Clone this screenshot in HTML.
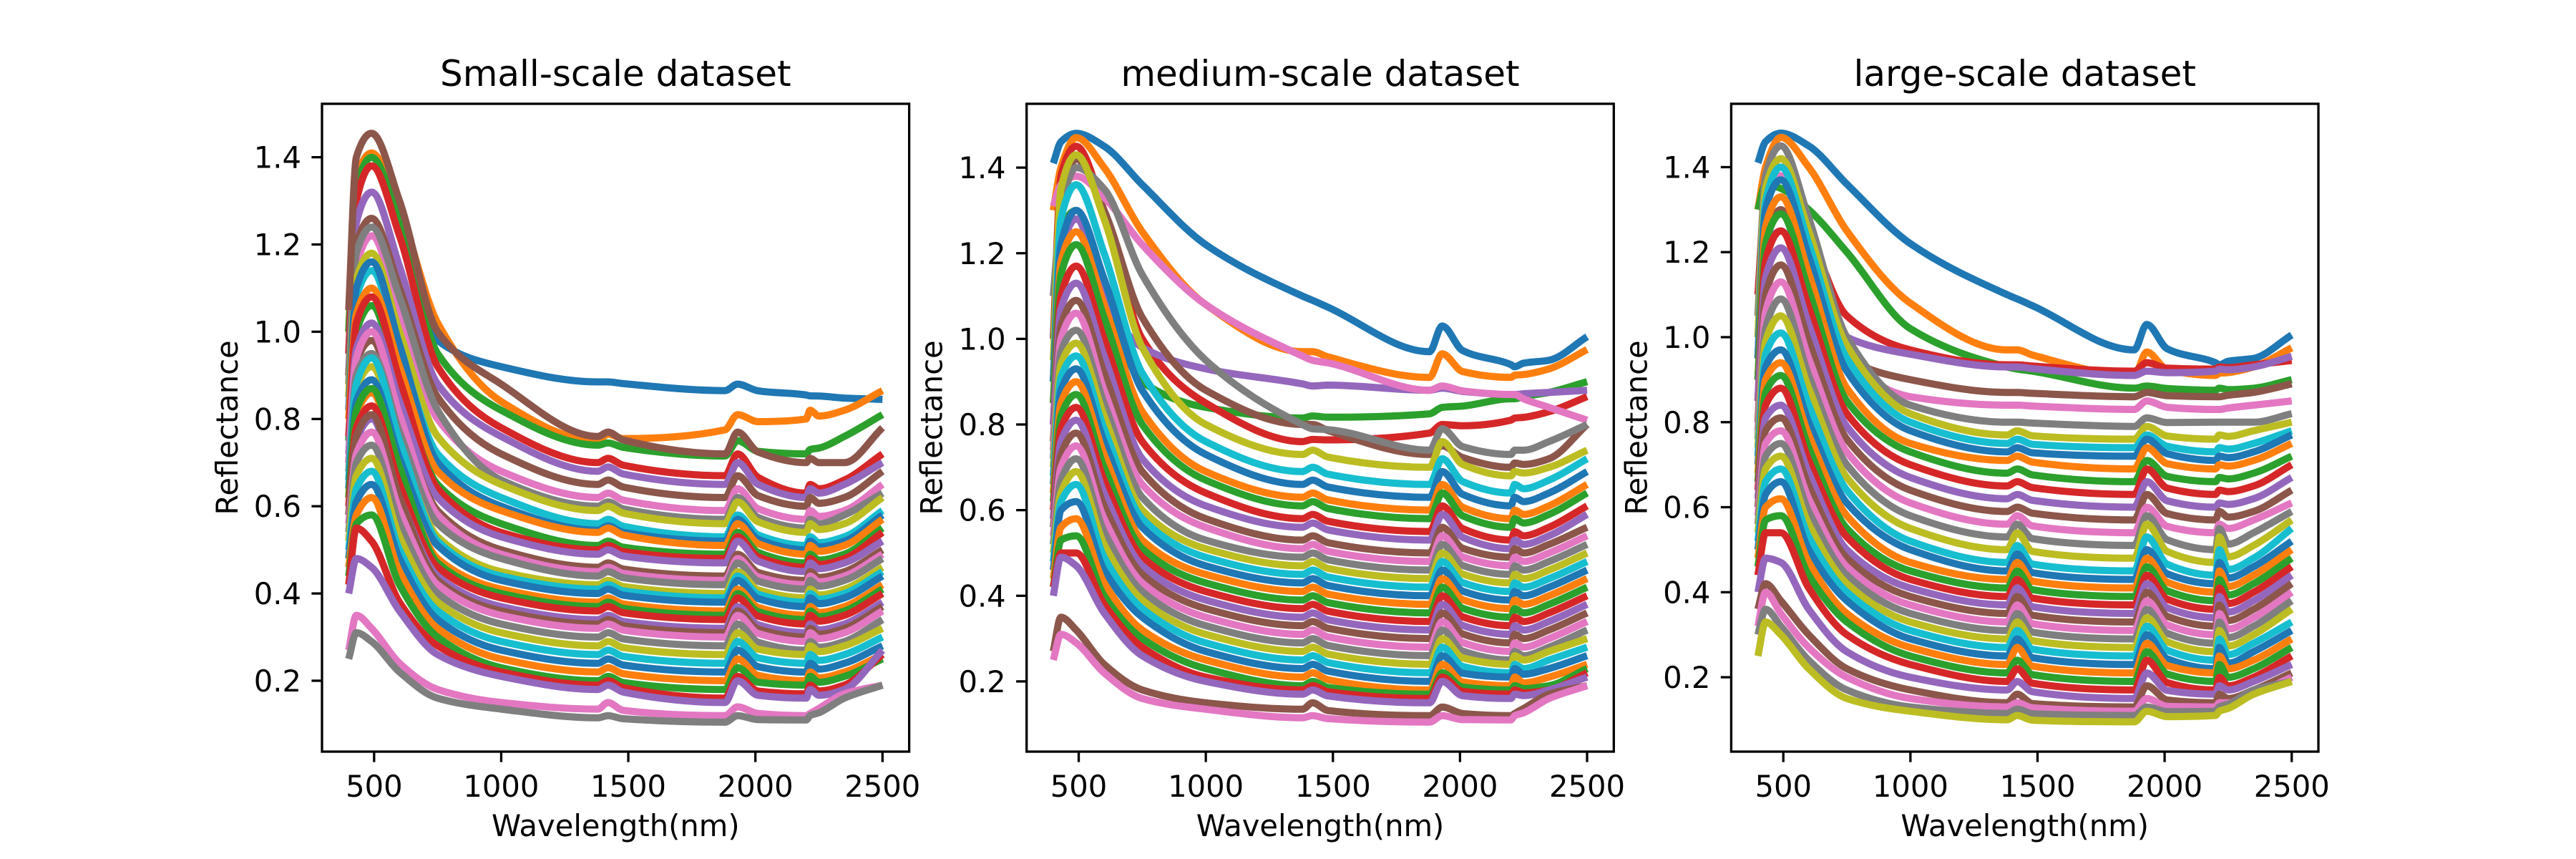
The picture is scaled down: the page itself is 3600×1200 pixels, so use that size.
<!DOCTYPE html>
<html><head><meta charset="utf-8"><style>
html,body{margin:0;padding:0;background:#fff;}
svg{display:block;font-family:"DejaVu Sans","Liberation Sans",sans-serif;}
</style></head><body>
<svg id="fig" width="3600" height="1200" viewBox="0 0 3600 1200" xmlns="http://www.w3.org/2000/svg"></svg>
<script>
// ---- data (wavelength sample points and reflectance curves) ----
const wavelengths = [400,430,490,600,750,1000,1380,1420,1880,1930,2200,2215,2350,2500];
const xTicks = [500,1000,1500,2000,2500];
const xTickLabels = ["500","1000","1500","2000","2500"];
const yTicks = [0.2,0.4,0.6,0.8,1.0,1.2,1.4];
const yTickLabels = ["0.2","0.4","0.6","0.8","1.0","1.2","1.4"];
const panelTitles = ["Small-scale dataset","medium-scale dataset","large-scale dataset"];
const smallCurves = [
[0.95,1.30,1.38,1.25,0.98,0.92,0.885,0.885,0.865,0.88,0.855,0.853,0.848,0.845],
[1.00,1.35,1.41,1.28,1.02,0.84,0.75,0.765,0.775,0.81,0.80,0.82,0.82,0.865],
[1.00,1.33,1.40,1.25,0.95,0.82,0.74,0.745,0.715,0.75,0.72,0.73,0.76,0.81],
[0.95,1.30,1.38,1.22,0.92,0.78,0.70,0.71,0.67,0.72,0.63,0.65,0.66,0.72],
[0.90,1.25,1.32,1.15,0.88,0.76,0.68,0.69,0.65,0.70,0.62,0.64,0.65,0.70],
[0.90,1.20,1.26,1.10,0.85,0.72,0.65,0.66,0.62,0.67,0.60,0.62,0.62,0.68],
[0.85,1.15,1.22,1.05,0.80,0.68,0.62,0.63,0.59,0.64,0.57,0.59,0.59,0.65],
[0.88,1.18,1.24,1.08,0.82,0.66,0.60,0.61,0.57,0.62,0.55,0.57,0.58,0.63],
[0.85,1.12,1.18,1.00,0.76,0.65,0.59,0.60,0.56,0.61,0.54,0.56,0.56,0.62],
[0.80,1.08,1.14,0.96,0.72,0.62,0.56,0.57,0.53,0.58,0.51,0.53,0.53,0.59],
[0.82,1.10,1.16,0.97,0.70,0.60,0.545,0.555,0.52,0.57,0.50,0.52,0.52,0.58],
[0.80,1.04,1.10,0.92,0.68,0.59,0.54,0.55,0.51,0.56,0.49,0.51,0.51,0.57],
[0.75,1.00,1.06,0.88,0.65,0.56,0.51,0.52,0.49,0.54,0.47,0.49,0.49,0.55],
[0.76,1.02,1.08,0.89,0.64,0.54,0.50,0.51,0.48,0.53,0.46,0.48,0.48,0.54],
[0.72,0.96,1.02,0.84,0.62,0.53,0.49,0.50,0.47,0.52,0.45,0.47,0.47,0.52],
[0.70,0.93,0.98,0.80,0.59,0.50,0.46,0.47,0.44,0.49,0.43,0.45,0.45,0.50],
[0.70,0.94,1.00,0.81,0.58,0.49,0.45,0.46,0.43,0.48,0.42,0.44,0.44,0.49],
[0.68,0.90,0.95,0.77,0.56,0.48,0.44,0.45,0.42,0.47,0.41,0.43,0.43,0.48],
[0.66,0.87,0.92,0.74,0.53,0.45,0.42,0.43,0.40,0.45,0.39,0.41,0.41,0.46],
[0.66,0.88,0.94,0.75,0.52,0.44,0.41,0.42,0.39,0.44,0.38,0.40,0.40,0.45],
[0.64,0.84,0.89,0.71,0.51,0.43,0.40,0.41,0.38,0.43,0.37,0.39,0.39,0.44],
[0.62,0.81,0.86,0.68,0.48,0.41,0.38,0.39,0.36,0.41,0.35,0.37,0.37,0.42],
[0.62,0.82,0.87,0.69,0.47,0.40,0.37,0.38,0.35,0.40,0.34,0.36,0.36,0.41],
[0.60,0.78,0.83,0.65,0.46,0.39,0.36,0.37,0.34,0.39,0.33,0.35,0.35,0.40],
[0.58,0.75,0.80,0.62,0.44,0.37,0.34,0.35,0.32,0.37,0.31,0.33,0.33,0.38],
[0.58,0.76,0.81,0.62,0.43,0.36,0.33,0.34,0.31,0.36,0.30,0.32,0.32,0.37],
[0.56,0.72,0.77,0.59,0.42,0.35,0.32,0.33,0.30,0.35,0.29,0.31,0.31,0.36],
[0.54,0.70,0.74,0.56,0.40,0.33,0.30,0.31,0.28,0.33,0.27,0.29,0.29,0.34],
[0.52,0.67,0.71,0.53,0.38,0.31,0.28,0.29,0.26,0.31,0.26,0.28,0.28,0.32],
[0.50,0.64,0.68,0.50,0.36,0.29,0.26,0.27,0.24,0.29,0.24,0.26,0.26,0.30],
[0.48,0.61,0.65,0.48,0.34,0.27,0.24,0.25,0.22,0.27,0.22,0.24,0.24,0.28],
[0.46,0.58,0.62,0.45,0.32,0.25,0.22,0.23,0.20,0.25,0.20,0.22,0.22,0.26],
[0.44,0.56,0.58,0.42,0.30,0.23,0.20,0.21,0.18,0.23,0.19,0.21,0.21,0.25],
[0.42,0.55,0.52,0.38,0.28,0.22,0.19,0.20,0.16,0.21,0.17,0.19,0.19,0.26],
[0.40,0.48,0.46,0.36,0.26,0.21,0.18,0.19,0.15,0.20,0.16,0.18,0.18,0.27],
[1.05,1.40,1.455,1.30,1.00,0.88,0.76,0.77,0.72,0.77,0.70,0.71,0.70,0.78],
[0.27,0.35,0.32,0.24,0.18,0.15,0.135,0.15,0.12,0.14,0.12,0.125,0.17,0.19],
[0.25,0.31,0.29,0.22,0.16,0.135,0.115,0.12,0.105,0.12,0.11,0.12,0.16,0.19]
];
const mediumCurves = [
[1.41,1.46,1.48,1.45,1.36,1.22,1.10,1.09,0.97,1.03,0.94,0.935,0.95,1.005],
[1.30,1.40,1.47,1.40,1.25,1.08,0.97,0.97,0.91,0.965,0.91,0.915,0.93,0.975],
[0.90,1.25,1.30,1.10,0.90,0.84,0.815,0.82,0.825,0.84,0.86,0.86,0.875,0.90],
[1.00,1.38,1.45,1.30,1.00,0.85,0.76,0.765,0.78,0.80,0.81,0.815,0.83,0.865],
[0.90,1.20,1.28,1.10,0.98,0.93,0.895,0.89,0.88,0.885,0.87,0.87,0.875,0.88],
[1.00,1.30,1.42,1.30,1.05,0.88,0.80,0.80,0.73,0.75,0.70,0.71,0.72,0.80],
[1.31,1.36,1.38,1.33,1.22,1.08,0.96,0.95,0.88,0.89,0.87,0.87,0.84,0.81],
[1.10,1.30,1.40,1.35,1.15,0.95,0.80,0.79,0.74,0.79,0.73,0.74,0.76,0.80],
[0.95,1.35,1.43,1.28,0.98,0.80,0.73,0.74,0.70,0.76,0.68,0.69,0.70,0.74],
[0.90,1.28,1.36,1.20,0.92,0.76,0.69,0.70,0.66,0.72,0.64,0.66,0.67,0.72],
[0.90,1.22,1.30,1.14,0.88,0.73,0.66,0.67,0.63,0.69,0.61,0.63,0.64,0.69],
[0.85,1.18,1.25,1.08,0.83,0.69,0.63,0.64,0.60,0.66,0.58,0.60,0.61,0.66],
[0.85,1.15,1.22,1.05,0.80,0.67,0.61,0.62,0.58,0.64,0.56,0.58,0.59,0.64],
[0.80,1.10,1.17,1.00,0.76,0.64,0.58,0.59,0.55,0.61,0.53,0.55,0.56,0.61],
[0.80,1.07,1.13,0.96,0.72,0.61,0.56,0.57,0.53,0.59,0.51,0.53,0.54,0.59],
[0.76,1.03,1.09,0.92,0.69,0.58,0.53,0.54,0.50,0.56,0.49,0.51,0.52,0.56],
[0.74,1.00,1.06,0.88,0.66,0.56,0.51,0.52,0.48,0.54,0.47,0.49,0.50,0.54],
[0.72,0.97,1.02,0.85,0.63,0.53,0.49,0.50,0.46,0.52,0.45,0.47,0.48,0.52],
[0.70,0.94,0.99,0.82,0.60,0.51,0.47,0.48,0.44,0.50,0.43,0.45,0.46,0.50],
[0.68,0.91,0.96,0.79,0.58,0.49,0.45,0.46,0.42,0.48,0.41,0.43,0.44,0.48],
[0.66,0.88,0.93,0.76,0.56,0.47,0.43,0.44,0.40,0.46,0.39,0.41,0.42,0.46],
[0.64,0.85,0.90,0.73,0.53,0.45,0.41,0.42,0.38,0.44,0.37,0.39,0.40,0.44],
[0.62,0.82,0.87,0.70,0.51,0.43,0.39,0.40,0.36,0.42,0.35,0.37,0.38,0.42],
[0.60,0.79,0.84,0.67,0.49,0.41,0.37,0.38,0.34,0.40,0.33,0.35,0.36,0.40],
[0.58,0.76,0.81,0.64,0.47,0.39,0.35,0.36,0.32,0.38,0.31,0.33,0.34,0.38],
[0.56,0.73,0.78,0.61,0.45,0.37,0.33,0.34,0.30,0.36,0.29,0.31,0.32,0.36],
[0.54,0.70,0.75,0.58,0.43,0.35,0.31,0.32,0.28,0.34,0.27,0.29,0.30,0.34],
[0.52,0.67,0.72,0.55,0.41,0.33,0.29,0.30,0.26,0.32,0.25,0.27,0.28,0.32],
[0.50,0.64,0.69,0.52,0.39,0.31,0.27,0.28,0.24,0.30,0.24,0.26,0.27,0.30],
[0.48,0.62,0.66,0.49,0.37,0.29,0.25,0.26,0.22,0.28,0.22,0.24,0.25,0.28],
[0.46,0.60,0.62,0.46,0.35,0.27,0.23,0.24,0.20,0.26,0.21,0.23,0.23,0.26],
[0.44,0.56,0.58,0.43,0.32,0.25,0.21,0.22,0.18,0.24,0.19,0.21,0.21,0.24],
[0.42,0.53,0.54,0.40,0.30,0.23,0.19,0.20,0.17,0.22,0.18,0.19,0.19,0.23],
[0.42,0.50,0.50,0.38,0.28,0.21,0.18,0.19,0.16,0.21,0.17,0.18,0.18,0.22],
[0.40,0.49,0.47,0.36,0.26,0.20,0.17,0.18,0.15,0.20,0.16,0.17,0.18,0.21],
[0.27,0.35,0.32,0.24,0.18,0.15,0.135,0.15,0.12,0.14,0.12,0.125,0.17,0.19],
[0.25,0.31,0.29,0.22,0.16,0.135,0.115,0.12,0.105,0.12,0.11,0.12,0.16,0.19]
];
const largeCurves = [
[1.41,1.46,1.48,1.45,1.36,1.22,1.10,1.09,0.97,1.03,0.94,0.935,0.95,1.005],
[1.30,1.40,1.47,1.40,1.25,1.08,0.97,0.97,0.91,0.965,0.91,0.915,0.93,0.975],
[1.30,1.36,1.35,1.30,1.20,1.02,0.93,0.925,0.88,0.885,0.875,0.88,0.88,0.90],
[1.10,1.35,1.40,1.25,1.05,0.97,0.935,0.935,0.92,0.94,0.925,0.93,0.935,0.945],
[0.90,1.20,1.25,1.12,1.00,0.96,0.93,0.93,0.91,0.92,0.92,0.925,0.93,0.955],
[0.90,1.22,1.30,1.10,0.95,0.90,0.87,0.87,0.86,0.87,0.86,0.86,0.87,0.89],
[1.00,1.30,1.38,1.20,0.95,0.86,0.84,0.84,0.83,0.85,0.83,0.83,0.84,0.85],
[1.05,1.38,1.45,1.28,1.00,0.84,0.80,0.80,0.79,0.81,0.80,0.80,0.80,0.82],
[1.00,1.35,1.42,1.25,0.98,0.82,0.77,0.78,0.76,0.79,0.76,0.77,0.78,0.80],
[0.95,1.32,1.40,1.22,0.95,0.80,0.75,0.76,0.74,0.77,0.73,0.74,0.75,0.78],
[0.95,1.30,1.37,1.19,0.92,0.78,0.73,0.74,0.72,0.76,0.71,0.72,0.73,0.77],
[0.90,1.26,1.33,1.15,0.88,0.75,0.71,0.72,0.69,0.74,0.69,0.70,0.71,0.75],
[0.90,1.22,1.29,1.11,0.85,0.73,0.68,0.69,0.66,0.71,0.66,0.67,0.68,0.72],
[0.85,1.18,1.25,1.07,0.82,0.70,0.65,0.66,0.63,0.69,0.63,0.64,0.65,0.70],
[0.85,1.14,1.21,1.03,0.79,0.67,0.62,0.63,0.60,0.66,0.60,0.61,0.62,0.67],
[0.80,1.10,1.17,0.99,0.76,0.64,0.59,0.60,0.57,0.63,0.57,0.59,0.59,0.64],
[0.78,1.06,1.13,0.95,0.73,0.61,0.56,0.58,0.54,0.60,0.54,0.56,0.57,0.61],
[0.76,1.02,1.09,0.91,0.70,0.58,0.53,0.56,0.51,0.58,0.50,0.55,0.54,0.59],
[0.74,0.99,1.05,0.88,0.67,0.55,0.50,0.54,0.48,0.56,0.47,0.53,0.51,0.57],
[0.72,0.96,1.01,0.84,0.64,0.52,0.47,0.51,0.45,0.53,0.44,0.50,0.48,0.55],
[0.70,0.93,0.97,0.80,0.61,0.50,0.45,0.49,0.43,0.50,0.42,0.47,0.46,0.52],
[0.68,0.90,0.94,0.77,0.58,0.47,0.43,0.47,0.41,0.48,0.40,0.45,0.44,0.50],
[0.66,0.87,0.91,0.74,0.55,0.45,0.41,0.45,0.39,0.46,0.38,0.43,0.42,0.48],
[0.64,0.84,0.88,0.71,0.53,0.43,0.39,0.43,0.37,0.44,0.36,0.41,0.40,0.46],
[0.62,0.81,0.84,0.68,0.50,0.41,0.37,0.41,0.35,0.42,0.34,0.39,0.38,0.44],
[0.60,0.78,0.81,0.65,0.48,0.39,0.35,0.39,0.33,0.40,0.32,0.37,0.36,0.42],
[0.58,0.75,0.78,0.62,0.46,0.37,0.33,0.37,0.31,0.38,0.30,0.35,0.34,0.40],
[0.56,0.72,0.75,0.59,0.44,0.35,0.31,0.35,0.29,0.36,0.28,0.33,0.32,0.38],
[0.54,0.69,0.72,0.56,0.42,0.33,0.29,0.33,0.27,0.34,0.26,0.31,0.30,0.36],
[0.52,0.66,0.69,0.53,0.40,0.31,0.27,0.31,0.25,0.32,0.24,0.29,0.28,0.33],
[0.50,0.63,0.66,0.50,0.38,0.29,0.25,0.29,0.23,0.30,0.22,0.27,0.26,0.31],
[0.48,0.60,0.62,0.47,0.35,0.27,0.23,0.27,0.21,0.28,0.21,0.25,0.24,0.29],
[0.46,0.57,0.58,0.44,0.33,0.25,0.21,0.24,0.19,0.26,0.19,0.23,0.22,0.27],
[0.44,0.54,0.54,0.41,0.30,0.23,0.19,0.22,0.17,0.24,0.17,0.20,0.20,0.25],
[0.40,0.48,0.47,0.36,0.26,0.20,0.17,0.19,0.15,0.21,0.16,0.18,0.19,0.23],
[0.36,0.42,0.38,0.30,0.22,0.17,0.14,0.16,0.13,0.18,0.14,0.16,0.17,0.21],
[0.32,0.40,0.35,0.27,0.20,0.15,0.13,0.14,0.12,0.15,0.13,0.14,0.16,0.20],
[0.30,0.36,0.32,0.24,0.17,0.13,0.115,0.125,0.11,0.13,0.12,0.13,0.17,0.19],
[0.25,0.33,0.30,0.22,0.15,0.12,0.10,0.11,0.095,0.12,0.11,0.12,0.16,0.19]
];
const panelCurves = [smallCurves, mediumCurves, largeCurves];
const yDomains = [[0.0375,1.5225],[0.036,1.549],[0.025,1.549]];
const xDomain = [295,2605];

// ---- layout ----
const NS = "http://www.w3.org/2000/svg";
const svg = document.getElementById('fig');
const palette = ["#1f77b4","#ff7f0e","#2ca02c","#d62728","#9467bd","#8c564b","#e377c2","#7f7f7f","#bcbd22","#17becf"];
const axLefts = [450, 1434.7, 2419.4];
const axW = 820.6, axTop = 145, axBottom = 1050;

function mk(tag, attrs){ const e=document.createElementNS(NS,tag); for(const k in attrs) e.setAttribute(k,attrs[k]); return e; }

// expand sample points: absorption features at 1420 / 1930 / 2215 are narrow peaks
// returning to the baseline drawn between their neighbours.
function expand(curve){
  const v = k => curve[k];
  const lerp = (a,b,wa,wb,w) => a+(b-a)*(w-wa)/(wb-wa);
  const out = [];
  for(let k=0;k<wavelengths.length;k++){
    out.push([wavelengths[k], v(k)]);
    if(wavelengths[k]===1420) out.push([1480, lerp(v(6),v(8),1380,1880,1480)]);
    if(wavelengths[k]===1930) out.push([2010, lerp(v(8),v(10),1880,2200,2010)+ (v(9)-v(8))*0.25]);
    if(wavelengths[k]===2215) out.push([2250, lerp(v(10),v(12),2200,2350,2250)]);
  }
  return out;
}

// monotone cubic (Fritsch-Carlson) path in pixel space
function monoPath(pts){
  const n=pts.length, dx=[], s=[], m=new Array(n);
  for(let i=0;i<n-1;i++){ dx[i]=pts[i+1][0]-pts[i][0]; s[i]=(pts[i+1][1]-pts[i][1])/dx[i]; }
  m[0]=s[0]; m[n-1]=s[n-2];
  for(let i=1;i<n-1;i++){
    if(s[i-1]*s[i]<=0) m[i]=0;
    else { const w1=2*dx[i]+dx[i-1], w2=dx[i]+2*dx[i-1]; m[i]=(w1+w2)/(w1/s[i-1]+w2/s[i]); }
  }
  let d="M"+pts[0][0].toFixed(1)+","+pts[0][1].toFixed(1);
  for(let i=0;i<n-1;i++){
    const h=dx[i]/3;
    d+=" C"+(pts[i][0]+h).toFixed(1)+","+(pts[i][1]+m[i]*h).toFixed(1)+" "+(pts[i+1][0]-h).toFixed(1)+","+(pts[i+1][1]-m[i+1]*h).toFixed(1)+" "+pts[i+1][0].toFixed(1)+","+pts[i+1][1].toFixed(1);
  }
  return d;
}

for(let p=0;p<3;p++){
  const L = axLefts[p];
  const yd = yDomains[p];
  const xs = v => L + (v-xDomain[0])/(xDomain[1]-xDomain[0])*axW;
  const ys = v => axBottom - (v-yd[0])/(yd[1]-yd[0])*(axBottom-axTop);
  const g = mk('g',{});
  
  
  svg.appendChild(g);
  const clip = mk('clipPath',{id:'clip'+p});
  clip.appendChild(mk('rect',{x:L,y:axTop,width:axW,height:axBottom-axTop}));
  g.appendChild(clip);
  const lines = mk('g',{'clip-path':'url(#clip'+p+')',fill:'none','stroke-width':10,'stroke-linejoin':'round','stroke-linecap':'butt'});
  
  
  g.appendChild(lines);
  panelCurves[p].forEach((curve,i)=>{
    const pts = expand(curve).map(q=>[xs(q[0]), ys(q[1])]);
    const path = mk('path',{d:monoPath(pts),stroke:palette[i%10]});
    
    
    lines.appendChild(path);
  });
  const frame = mk('rect',{x:L,y:axTop,width:axW,height:axBottom-axTop,fill:'none',stroke:'#000','stroke-width':3.3});
  
  
  g.appendChild(frame);
  xTicks.forEach((t,i)=>{
    const x = xs(t);
    g.appendChild(mk('line',{x1:x,x2:x,y1:axBottom,y2:axBottom+14.6,stroke:'#000','stroke-width':3.3}));
    const tx = mk('text',{x:x,y:1113,'text-anchor':'middle','font-size':41.67,fill:'#000'});
    tx.textContent = xTickLabels[i];
    
    
    g.appendChild(tx);
  });
  yTicks.forEach((t,i)=>{
    const y = ys(t);
    g.appendChild(mk('line',{x1:L-14.6,x2:L,y1:y,y2:y,stroke:'#000','stroke-width':3.3}));
    const tx = mk('text',{x:L-29,y:y+15,'text-anchor':'end','font-size':41.67,fill:'#000'});
    tx.textContent = yTickLabels[i];
    
    
    g.appendChild(tx);
  });
  const title = mk('text',{x:L+axW/2,y:120,'text-anchor':'middle','font-size':50,fill:'#000'});
  title.textContent = panelTitles[p];
  
  
  g.appendChild(title);
  const xl = mk('text',{x:L+axW/2,y:1168,'text-anchor':'middle','font-size':41.67,fill:'#000'});
  xl.textContent = 'Wavelength(nm)';
  
  
  g.appendChild(xl);
  const yc = (axTop+axBottom)/2, yx = L-118;
  const yl = mk('text',{x:yx,y:yc,'text-anchor':'middle','font-size':41.67,fill:'#000',transform:'rotate(-90 '+yx+' '+yc+')'});
  yl.textContent = 'Reflectance';
  
  
  g.appendChild(yl);
}
</script>
</body></html>
